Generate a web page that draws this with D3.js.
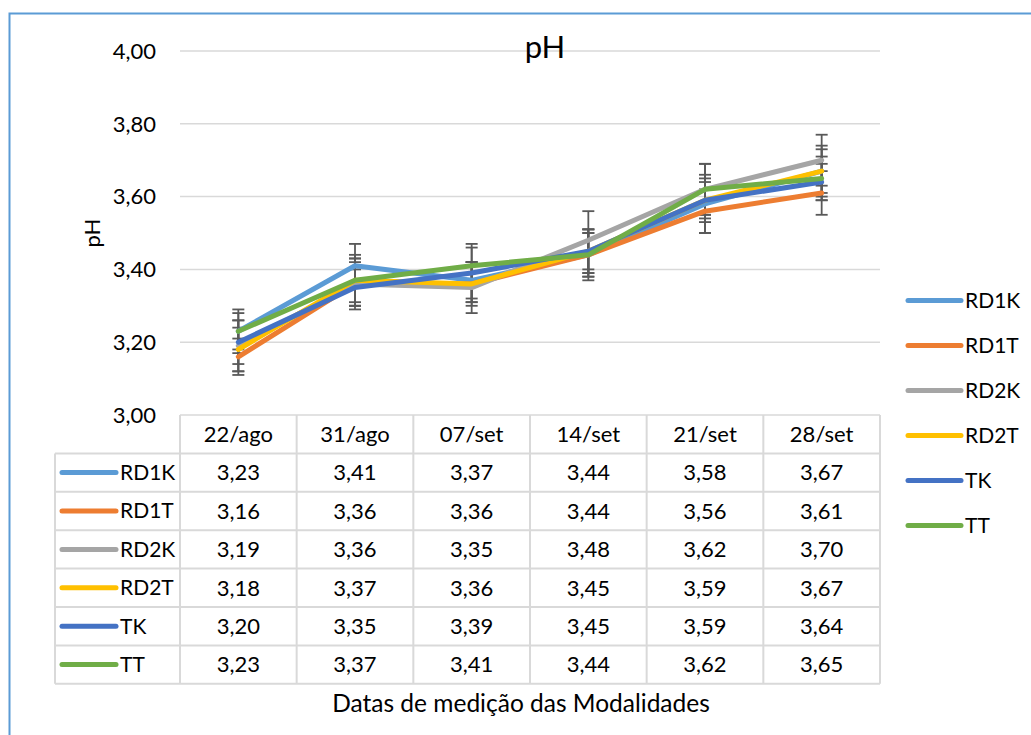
<!DOCTYPE html>
<html>
<head>
<meta charset="utf-8">
<script src="https://cdn.jsdelivr.net/npm/d3@7"></script>
<style>
  body { margin: 0; background: #fff; }
  text { font-family: Lato, "Open Sans", sans-serif; fill: #000; }
</style>
</head>
<body>
<svg id="chart"></svg>
<script>
const categories = ["22/ago", "31/ago", "07/set", "14/set", "21/set", "28/set"];
const seriesNames = ["RD1K", "RD1T", "RD2K", "RD2T", "TK", "TT"];
const seriesColors = ["#5b9bd5", "#ed7d31", "#a5a5a5", "#ffc000", "#4472c4", "#70ad47"];

// mean pH per date (from the data table)
const rd1k = [3.23, 3.41, 3.37, 3.44, 3.58, 3.67];
const rd1t = [3.16, 3.36, 3.36, 3.44, 3.56, 3.61];
const rd2k = [3.19, 3.36, 3.35, 3.48, 3.62, 3.70];
const rd2t = [3.18, 3.37, 3.36, 3.45, 3.59, 3.67];
const tk   = [3.20, 3.35, 3.39, 3.45, 3.59, 3.64];
const tt   = [3.23, 3.37, 3.41, 3.44, 3.62, 3.65];

// error bar half widths
const rd1kErr = [0.06, 0.06, 0.05, 0.07, 0.08, 0.06];
const rd1tErr = [0.05, 0.06, 0.06, 0.06, 0.06, 0.06];
const rd2kErr = [0.07, 0.07, 0.07, 0.08, 0.07, 0.07];
const rd2tErr = [0.06, 0.06, 0.05, 0.06, 0.05, 0.07];
const tkErr   = [0.06, 0.05, 0.08, 0.06, 0.06, 0.05];
const ttErr   = [0.05, 0.07, 0.05, 0.06, 0.07, 0.06];

const yTicks = [3.0, 3.2, 3.4, 3.6, 3.8, 4.0];

const series = seriesNames.map((name, i) => ({
  name: name,
  color: seriesColors[i],
  values: [rd1k, rd1t, rd2k, rd2t, tk, tt][i],
  errors: [rd1kErr, rd1tErr, rd2kErr, rd2tErr, tkErr, ttErr][i],
}));

const SIZE = { width: 1031, height: 735 };
const PLOT = { left: 180, right: 880, top: 51, bottom: 415 };
const TABLE = { left: 55, rowH: 38.4 };
const GRID = "#d9d9d9";
const fmt = v => d3.format(".2f")(v).replace(".", ",");

const svg = d3.select("svg#chart")
  .attr("width", SIZE.width)
  .attr("height", SIZE.height);

// chart border
svg.append("rect")
  .attr("x", 9.5).attr("y", 13.5)
  .attr("width", 1040).attr("height", 740)
  .attr("fill", "#fff")
  .attr("stroke", "#5b9bd5")
  .attr("stroke-width", 2);

const xScale = d3.scaleBand().domain(categories).range([PLOT.left, PLOT.right]);
const xMid = c => xScale(c) + xScale.bandwidth() / 2;
const yScale = d3.scaleLinear().domain([3, 4]).range([PLOT.bottom, PLOT.top]);

// gridlines + y labels
svg.append("g").selectAll("line").data(yTicks).enter().append("line")
  .attr("x1", PLOT.left).attr("x2", PLOT.right)
  .attr("y1", d => yScale(d)).attr("y2", d => yScale(d))
  .attr("stroke", GRID).attr("stroke-width", 1.5);

svg.append("g").selectAll("text").data(yTicks).enter().append("text")
  .attr("x", 156).attr("y", d => yScale(d))
  .attr("dy", "0.35em")
  .attr("text-anchor", "end")
  .attr("font-size", 22)
  .text(fmt);

// title and axis titles
svg.append("text")
  .attr("x", 545).attr("y", 47).attr("dy", "0.35em")
  .attr("text-anchor", "middle").attr("font-size", 31)
  .text("pH");

svg.append("text")
  .attr("transform", `translate(92, 233) rotate(-90)`)
  .attr("dy", "0.35em")
  .attr("text-anchor", "middle").attr("font-size", 22)
  .text("pH");

svg.append("text")
  .attr("x", 521).attr("y", 703).attr("dy", "0.35em")
  .attr("text-anchor", "middle").attr("font-size", 24.5)
  .text("Datas de medição das Modalidades");

// error bars (under the lines)
const errG = svg.append("g").attr("stroke", "#595959").attr("stroke-width", 1.8);
series.forEach(s => {
  s.values.forEach((v, j) => {
    const x = xMid(categories[j]);
    const hi = yScale(v + s.errors[j]);
    const lo = yScale(v - s.errors[j]);
    errG.append("line").attr("x1", x).attr("x2", x).attr("y1", hi).attr("y2", lo);
    [hi, lo].forEach(y => {
      errG.append("line").attr("x1", x - 6).attr("x2", x + 6).attr("y1", y).attr("y2", y);
    });
  });
});

// series lines
const line = d3.line()
  .x((d, j) => xMid(categories[j]))
  .y(d => yScale(d));

svg.append("g").selectAll("path").data(series).enter().append("path")
  .attr("d", d => line(d.values))
  .attr("fill", "none")
  .attr("stroke", d => d.color)
  .attr("stroke-width", 5)
  .attr("stroke-linejoin", "round")
  .attr("stroke-linecap", "round");

// data table
const tableTop = PLOT.bottom;
const headerBottom = tableTop + TABLE.rowH;
const tableBottom = headerBottom + TABLE.rowH * series.length;
const tbl = svg.append("g");

const colEdges = categories.map(c => xScale(c)).concat([PLOT.right]);
tbl.selectAll(".vline").data(colEdges).enter().append("line")
  .attr("class", "vline")
  .attr("x1", d => d).attr("x2", d => d)
  .attr("y1", tableTop).attr("y2", tableBottom)
  .attr("stroke", GRID).attr("stroke-width", 2);

tbl.append("line")
  .attr("x1", TABLE.left).attr("x2", TABLE.left)
  .attr("y1", headerBottom).attr("y2", tableBottom)
  .attr("stroke", GRID).attr("stroke-width", 2);

const rowEdges = d3.range(series.length + 1).map(i => headerBottom + i * TABLE.rowH);
tbl.selectAll(".hline").data(rowEdges).enter().append("line")
  .attr("class", "hline")
  .attr("x1", TABLE.left).attr("x2", PLOT.right)
  .attr("y1", d => d).attr("y2", d => d)
  .attr("stroke", GRID).attr("stroke-width", 2);

tbl.selectAll(".head").data(categories).enter().append("text")
  .attr("class", "head")
  .attr("x", d => xMid(d))
  .attr("y", tableTop + TABLE.rowH / 2)
  .attr("dy", "0.35em")
  .attr("text-anchor", "middle").attr("font-size", 22)
  .text(d => d);

series.forEach((s, i) => {
  const cy = headerBottom + TABLE.rowH * i + TABLE.rowH / 2;
  tbl.append("line")
    .attr("x1", 62).attr("x2", 116)
    .attr("y1", cy).attr("y2", cy)
    .attr("stroke", s.color).attr("stroke-width", 5)
    .attr("stroke-linecap", "round");
  tbl.append("text")
    .attr("x", 120).attr("y", cy).attr("dy", "0.35em")
    .attr("font-size", 21)
    .text(s.name);
  tbl.selectAll(null).data(s.values).enter().append("text")
    .attr("x", (d, j) => xMid(categories[j]))
    .attr("y", cy).attr("dy", "0.35em")
    .attr("text-anchor", "middle").attr("font-size", 22)
    .text(fmt);
});

// legend on the right
const legend = svg.append("g").selectAll("g").data(series).enter().append("g")
  .attr("transform", (d, i) => `translate(0, ${300.5 + i * 45})`);
legend.append("line")
  .attr("x1", 908).attr("x2", 961)
  .attr("stroke", d => d.color).attr("stroke-width", 5)
  .attr("stroke-linecap", "round");
legend.append("text")
  .attr("x", 965).attr("dy", "0.35em")
  .attr("font-size", 21)
  .text(d => d.name);
</script>
</body>
</html>
